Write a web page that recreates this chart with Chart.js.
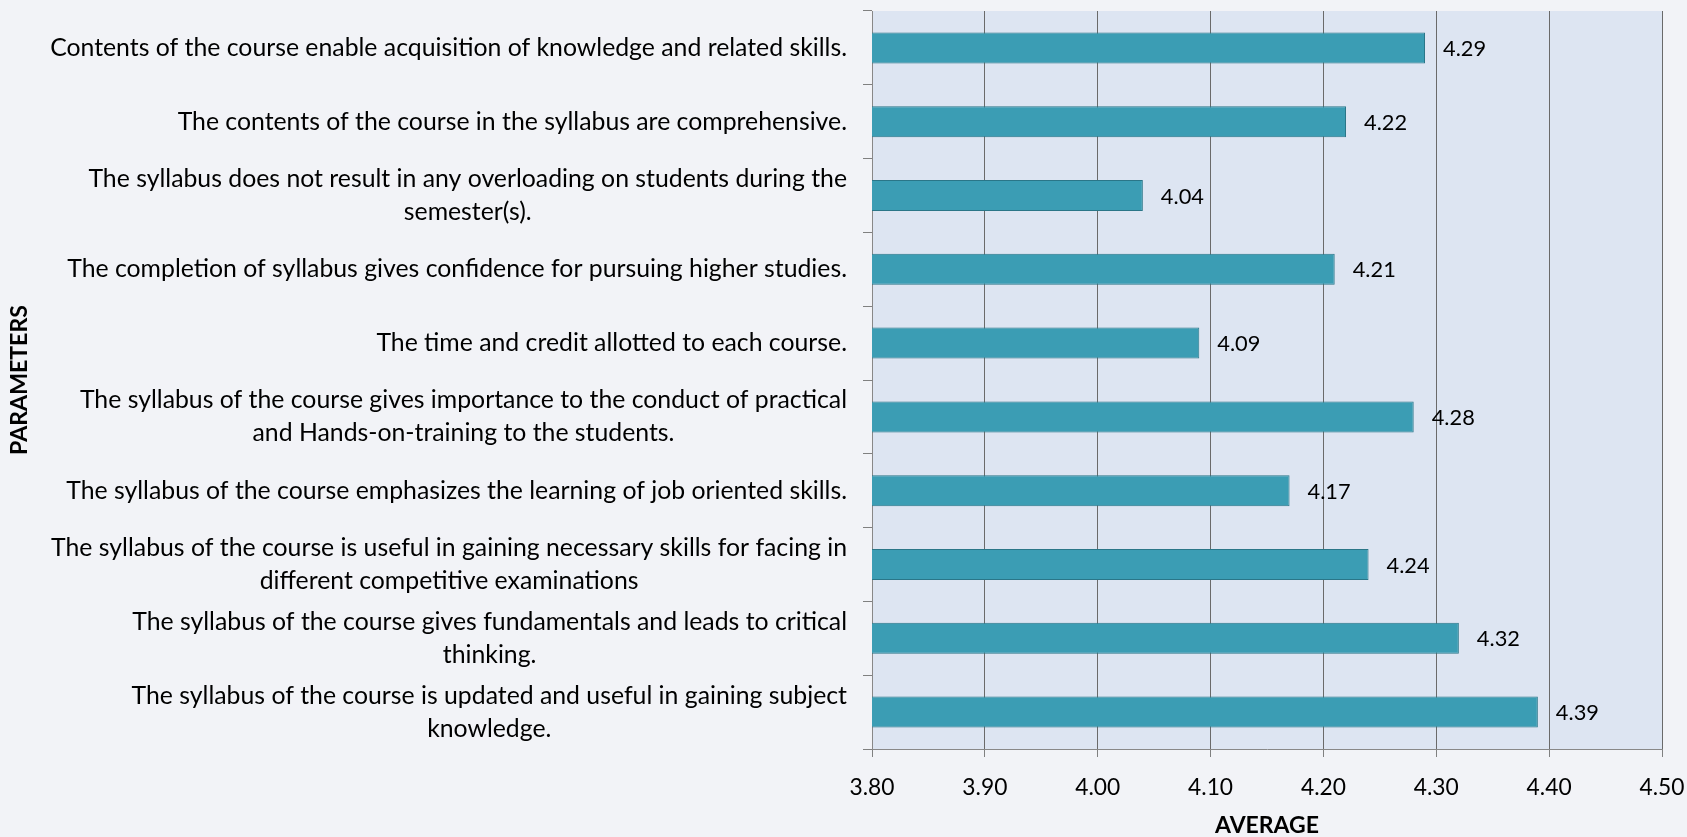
<!DOCTYPE html>
<html>
<head>
<meta charset="utf-8">
<script src="https://cdn.jsdelivr.net/npm/chart.js@4.4.1/dist/chart.umd.min.js"></script>
<style>
  html, body { margin: 0; padding: 0; background: #f2f3f7; }
  #wrap { position: relative; width: 1687px; height: 837px; }
  canvas { display: block; }
</style>
</head>
<body>
<div id="wrap"><canvas id="chart" width="1687" height="837"></canvas></div>
<script>
// ---- data ----
const categories = [
  "Contents of the course enable acquisition of knowledge and related skills.",
  "The contents of the course in the syllabus are comprehensive.",
  ["The syllabus does not result in any overloading on students during the", "semester(s)."],
  "The completion of syllabus gives confidence for pursuing higher studies.",
  "The time and credit allotted to each course.",
  ["The syllabus of the course gives importance to the conduct of practical", "and Hands-on-training to the students."],
  "The syllabus of the course emphasizes the learning of job oriented skills.",
  ["The syllabus of the course is useful in gaining necessary skills for facing in", "different competitive examinations"],
  ["The syllabus of the course gives fundamentals and leads to critical", "thinking."],
  ["The syllabus of the course is updated and useful in gaining subject", "knowledge."]
];
const averages = [4.29, 4.22, 4.04, 4.21, 4.09, 4.28, 4.17, 4.24, 4.32, 4.39];
const xMin = 3.80;
const xMax = 4.50;
const xStep = 0.10;
const xTitle = "AVERAGE";
const yTitle = "PARAMETERS";

// ---- font sizing (fit Lato to the widths of the original Calibri text) ----
const FONT = "Lato, 'Open Sans', sans-serif";
const mctx = document.createElement('canvas').getContext('2d');
function fit(text, weight, target) {
  mctx.font = weight + " 100px " + FONT;
  return Math.round(100 * target / mctx.measureText(text).width * 10) / 10;
}
const labelSize = fit("Contents of the course enable acquisition of knowledge and related skills.", "normal", 796);
const tickSize = fit("3.80", "normal", 45);
const valueSize = fit("4.29", "normal", 43);
const yTitleSize = fit(yTitle, "bold", 150);
const xTitleSize = fit(xTitle, "bold", 104);

const PLOT_LEFT = 872, PLOT_TOP = 11, PLOT_BOTTOM = 749, CANVAS_H = 837;
const LABEL_RIGHT = 847, LINE_H = 33;

const bgPlugin = {
  id: 'bg',
  beforeDraw(chart) {
    const { ctx, chartArea: a } = chart;
    ctx.save();
    ctx.fillStyle = '#f2f3f7';
    ctx.fillRect(0, 0, chart.width, chart.height);
    ctx.fillStyle = '#dde5f2';
    ctx.fillRect(a.left, a.top, a.right - a.left, a.bottom - a.top);
    ctx.restore();
  }
};

const yLabelPlugin = {
  id: 'yLabels',
  afterDraw(chart) {
    const { ctx } = chart;
    const ys = chart.scales.y;
    ctx.save();
    ctx.font = "normal " + labelSize + "px " + FONT;
    ctx.fillStyle = '#000';
    ctx.textAlign = 'center';
    ctx.textBaseline = 'middle';
    categories.forEach((lab, i) => {
      const lines = Array.isArray(lab) ? lab : [lab];
      const w = Math.max(...lines.map(l => ctx.measureText(l).width));
      const cx = LABEL_RIGHT - w / 2;
      const yc = ys.getPixelForValue(i);
      lines.forEach((l, k) => {
        ctx.fillText(l, cx, yc - (lines.length - 1) * LINE_H / 2 + k * LINE_H);
      });
    });
    ctx.restore();
  }
};

const valuePlugin = {
  id: 'values',
  afterDatasetsDraw(chart) {
    const { ctx } = chart;
    const meta = chart.getDatasetMeta(0);
    ctx.save();
    ctx.font = "normal " + valueSize + "px " + FONT;
    ctx.fillStyle = '#000';
    ctx.textAlign = 'left';
    ctx.textBaseline = 'middle';
    meta.data.forEach((bar, i) => {
      ctx.fillText(averages[i].toFixed(2), bar.x + 18, bar.y + 1);
    });
    ctx.restore();
  }
};

new Chart(document.getElementById('chart'), {
  type: 'bar',
  data: {
    labels: categories,
    datasets: [{
      data: averages,
      backgroundColor: '#3b9db4',
      borderColor: '#2a7688',
      borderWidth: 1,
      borderSkipped: false,
      barPercentage: 0.42,
      categoryPercentage: 1.0
    }]
  },
  options: {
    indexAxis: 'y',
    responsive: false,
    animation: false,
    layout: { padding: { top: PLOT_TOP, right: 25, left: 0, bottom: 0 } },
    plugins: { legend: { display: false }, tooltip: { enabled: false } },
    scales: {
      x: {
        type: 'linear',
        position: 'bottom',
        min: xMin,
        max: xMax,
        ticks: {
          stepSize: xStep,
          callback: v => Number(v).toFixed(2),
          color: '#000',
          font: { family: FONT, size: tickSize, lineHeight: 1.2 },
          padding: 39 - 8 - tickSize * 0.6,
          maxRotation: 0
        },
        grid: { color: '#6a6a6a', lineWidth: 1, drawTicks: true, tickLength: 8, tickColor: '#808080' },
        border: { display: true, color: '#888', width: 1 },
        title: {
          display: true, text: xTitle, color: '#000',
          font: { family: FONT, size: xTitleSize, weight: 'bold', lineHeight: 1.0 },
          padding: { top: 0, bottom: 0 }
        },
        afterFit(scale) {
          scale.height = CANVAS_H - PLOT_BOTTOM;
          scale.paddingLeft = 0;
          scale.paddingRight = 0;
        }
      },
      y: {
        type: 'category',
        ticks: { display: false },
        grid: { offset: true, drawOnChartArea: false, drawTicks: true, tickLength: 9, color: '#808080', lineWidth: 1 },
        border: { display: true, color: '#888', width: 1 },
        title: {
          display: true, text: yTitle, color: '#000',
          font: { family: FONT, size: yTitleSize, weight: 'bold', lineHeight: 1.2 },
          padding: { top: 20 - yTitleSize * 0.6, bottom: 0 }
        },
        afterFit(scale) { scale.width = PLOT_LEFT; }
      }
    }
  },
  plugins: [bgPlugin, yLabelPlugin, valuePlugin]
});
</script>
</body>
</html>
